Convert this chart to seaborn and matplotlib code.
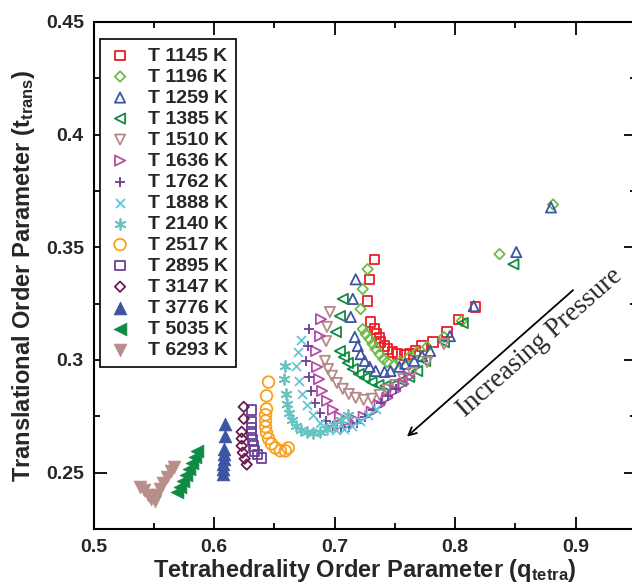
import matplotlib
matplotlib.use("Agg")
import matplotlib.pyplot as plt
import seaborn as sns
import pandas as pd
from matplotlib.ticker import MultipleLocator

# ---- data: tetrahedrality q and translational order t for each temperature ----
temps = ["T 1145 K", "T 1196 K", "T 1259 K", "T 1385 K", "T 1510 K",
         "T 1636 K", "T 1762 K", "T 1888 K", "T 2140 K", "T 2517 K",
         "T 2895 K", "T 3147 K", "T 3776 K", "T 5035 K", "T 6293 K"]

q_1145 = [0.7331, 0.7290, 0.7274, 0.7299, 0.7331, 0.7348, 0.7373, 0.7381, 0.7414, 0.7438,
          0.7479, 0.7521, 0.7578, 0.7627, 0.7669, 0.7726, 0.7817, 0.7932, 0.8030, 0.8170]
t_1145 = [0.3447, 0.3358, 0.3261, 0.3168, 0.3137, 0.3115, 0.3098, 0.3079, 0.3062, 0.3049,
          0.3035, 0.3026, 0.3022, 0.3026, 0.3040, 0.3062, 0.3079, 0.3124, 0.3181, 0.3235]

q_1196 = [0.7274, 0.7233, 0.7216, 0.7233, 0.7257, 0.7290, 0.7315, 0.7340, 0.7373, 0.7405,
          0.7438, 0.7496, 0.7545, 0.7619, 0.7685, 0.7767, 0.7907, 0.8055, 0.8368, 0.8812]
t_1196 = [0.3403, 0.3315, 0.3226, 0.3137, 0.3115, 0.3093, 0.3071, 0.3049, 0.3026, 0.3004,
          0.2991, 0.2978, 0.2991, 0.3013, 0.3035, 0.3058, 0.3102, 0.3173, 0.3470, 0.3690]

q_1259 = [0.7175, 0.7151, 0.7134, 0.7167, 0.7192, 0.7216, 0.7249, 0.7290, 0.7340, 0.7414,
          0.7463, 0.7537, 0.7586, 0.7660, 0.7726, 0.7792, 0.7956, 0.8154, 0.8507, 0.8795]
t_1259 = [0.3358, 0.3271, 0.3191, 0.3102, 0.3062, 0.3026, 0.2996, 0.2970, 0.2951, 0.2947,
          0.2951, 0.2970, 0.2983, 0.2996, 0.3017, 0.3040, 0.3106, 0.3239, 0.3479, 0.3677]

q_1385 = [0.7068, 0.7044, 0.7011, 0.7044, 0.7077, 0.7110, 0.7151, 0.7200, 0.7249, 0.7307,
          0.7364, 0.7422, 0.7488, 0.7553, 0.7619, 0.7685, 0.7751, 0.7907, 0.8063, 0.8483]
t_1385 = [0.3271, 0.3195, 0.3124, 0.3040, 0.3013, 0.2987, 0.2960, 0.2938, 0.2921, 0.2902,
          0.2889, 0.2885, 0.2889, 0.2907, 0.2925, 0.2951, 0.2996, 0.3079, 0.3164, 0.3425]

q_1510 = [0.6961, 0.6937, 0.6929, 0.6920, 0.6945, 0.6978, 0.7019, 0.7068, 0.7118, 0.7175,
          0.7241, 0.7307, 0.7373, 0.7438, 0.7504, 0.7570, 0.7644, 0.7767, 0.7907]
t_1510 = [0.3213, 0.3147, 0.3084, 0.2996, 0.2960, 0.2930, 0.2898, 0.2872, 0.2849, 0.2832,
          0.2823, 0.2828, 0.2845, 0.2868, 0.2889, 0.2915, 0.2943, 0.2991, 0.3071]

q_1636 = [0.6887, 0.6879, 0.6846, 0.6854, 0.6871, 0.6896, 0.6937, 0.6986, 0.7044, 0.7110,
          0.7175, 0.7241, 0.7307, 0.7373, 0.7438, 0.7504, 0.7570, 0.7619]
t_1636 = [0.3181, 0.3106, 0.3040, 0.2969, 0.2915, 0.2863, 0.2819, 0.2779, 0.2748, 0.2730,
          0.2734, 0.2748, 0.2770, 0.2800, 0.2832, 0.2863, 0.2894, 0.2925]

q_1762 = [0.6789, 0.6780, 0.6764, 0.6789, 0.6805, 0.6838, 0.6879, 0.6929, 0.6986, 0.7052,
          0.7118, 0.7184, 0.7249, 0.7315, 0.7381, 0.7447, 0.7512]
t_1762 = [0.3137, 0.3062, 0.2996, 0.2925, 0.2863, 0.2810, 0.2766, 0.2730, 0.2708, 0.2699,
          0.2704, 0.2721, 0.2748, 0.2779, 0.2810, 0.2841, 0.2872]

q_1888 = [0.6723, 0.6698, 0.6682, 0.6706, 0.6731, 0.6772, 0.6822, 0.6879, 0.6945, 0.7011,
          0.7077, 0.7143, 0.7208, 0.7274, 0.7340]
t_1888 = [0.3088, 0.3035, 0.2973, 0.2907, 0.2849, 0.2800, 0.2757, 0.2721, 0.2699, 0.2690,
          0.2695, 0.2708, 0.2730, 0.2757, 0.2783]

q_2140 = [0.6591, 0.6583, 0.6600, 0.6608, 0.6624, 0.6649, 0.6682, 0.6723, 0.6772, 0.6822,
          0.6879, 0.6937, 0.6994, 0.7052, 0.7110]
t_2140 = [0.2973, 0.2915, 0.2849, 0.2806, 0.2766, 0.2734, 0.2708, 0.2690, 0.2681, 0.2677,
          0.2681, 0.2695, 0.2712, 0.2734, 0.2757]

q_2517 = [0.6452, 0.6435, 0.6435, 0.6427, 0.6427, 0.6427, 0.6435, 0.6452, 0.6476, 0.6509,
          0.6550, 0.6591, 0.6616]
t_2517 = [0.2902, 0.2841, 0.2783, 0.2757, 0.2730, 0.2704, 0.2677, 0.2651, 0.2628, 0.2610,
          0.2597, 0.2597, 0.2610]

q_2895 = [0.6312, 0.6312, 0.6312, 0.6312, 0.6320, 0.6328, 0.6336, 0.6361, 0.6394]
t_2895 = [0.2779, 0.2726, 0.2699, 0.2672, 0.2646, 0.2619, 0.2597, 0.2580, 0.2566]

q_3147 = [0.6246, 0.6246, 0.6229, 0.6229, 0.6229, 0.6238, 0.6254, 0.6271]
t_3147 = [0.2792, 0.2739, 0.2681, 0.2651, 0.2619, 0.2589, 0.2562, 0.2536]

q_3776 = [0.6090, 0.6090, 0.6081, 0.6081, 0.6081, 0.6073, 0.6073, 0.6073]
t_3776 = [0.2717, 0.2664, 0.2606, 0.2584, 0.2562, 0.2540, 0.2518, 0.2495]

q_5035 = [0.5859, 0.5843, 0.5818, 0.5794, 0.5769, 0.5744, 0.5720, 0.5695]
t_5035 = [0.2597, 0.2570, 0.2544, 0.2518, 0.2491, 0.2465, 0.2438, 0.2416]

q_6293 = [0.5382, 0.5415, 0.5448, 0.5481, 0.5506, 0.5530, 0.5555, 0.5580, 0.5613, 0.5646, 0.5670]
t_6293 = [0.2438, 0.2421, 0.2403, 0.2385, 0.2376, 0.2403, 0.2429, 0.2455, 0.2482, 0.2508, 0.2527]

q_all = [q_1145, q_1196, q_1259, q_1385, q_1510, q_1636, q_1762, q_1888,
         q_2140, q_2517, q_2895, q_3147, q_3776, q_5035, q_6293]
t_all = [t_1145, t_1196, t_1259, t_1385, t_1510, t_1636, t_1762, t_1888,
         t_2140, t_2517, t_2895, t_3147, t_3776, t_5035, t_6293]

# marker, colour, face style (False = hollow, True = solid, None = line marker), marker area
styles = [
    ("s", "#ec1c24", False, 46),
    ("D", "#6cbd45", False, 28),
    ("^", "#3b54a4", False, 54),
    ("<", "#0f8b45", False, 54),
    ("v", "#b48a87", False, 54),
    (">", "#b54ea2", False, 54),
    ("+", "#6c3f98", None, 60),
    ("x", "#66c6d9", None, 42),
    ((6, 2, 0), "#69c3c0", None, 60),
    ("o", "#f9a11b", False, 70),
    ("s", "#6b4099", False, 48),
    ("D", "#6b1b4b", False, 28),
    ("^", "#3b54a4", True, 85),
    ("<", "#0f8b45", True, 85),
    ("v", "#b88e8b", True, 85),
]

df = pd.concat(
    [pd.DataFrame({"q": q, "t": t, "T": lab}) for q, t, lab in zip(q_all, t_all, temps)],
    ignore_index=True,
)

sns.set_theme(style="ticks")
plt.rcParams["font.family"] = ["Liberation Sans", "DejaVu Sans"]
plt.rcParams["font.weight"] = "bold"
plt.rcParams["mathtext.fontset"] = "custom"
plt.rcParams["mathtext.rm"] = "Liberation Sans:bold"
plt.rcParams["mathtext.it"] = "Liberation Sans:bold"
plt.rcParams["mathtext.bf"] = "Liberation Sans:bold"

fig = plt.figure(figsize=(6.32, 5.85), dpi=100)
# the frame runs a few pixels past the right edge of the canvas
ax = fig.add_axes([93.5 / 632, 56 / 585, 542.5 / 632, 507 / 585])

for lab, (mk, col, filled, size) in zip(temps, styles):
    sub = df[df["T"] == lab]
    kw = dict(marker=mk, s=size, color=col, label=lab, ax=ax, zorder=3)
    if filled is None:
        kw.update(linewidth=1.3)
    elif filled:
        kw.update(edgecolor=col, linewidth=0.5)
    else:
        kw.update(facecolor="none", edgecolor=col, linewidth=1.3)
    sns.scatterplot(data=sub, x="q", y="t", **kw)

ax.set_xlim(0.5, 0.95)
ax.set_ylim(0.225, 0.45)
ax.xaxis.set_major_locator(MultipleLocator(0.1))
ax.xaxis.set_minor_locator(MultipleLocator(0.05))
ax.yaxis.set_major_locator(MultipleLocator(0.05))
ax.yaxis.set_minor_locator(MultipleLocator(0.025))
ax.xaxis.set_major_formatter(plt.FuncFormatter(lambda v, p: f"{v:g}"))
ax.yaxis.set_major_formatter(plt.FuncFormatter(lambda v, p: f"{v:g}"))

for s in ax.spines.values():
    s.set_linewidth(1.5)
    s.set_color("black")
ax.tick_params(which="both", direction="in", top=True, right=True,
               color="black", width=1.3, labelsize=14, pad=7)
ax.tick_params(which="major", length=9)
ax.tick_params(which="minor", length=4.5)
for lbl in ax.get_xticklabels() + ax.get_yticklabels():
    lbl.set_fontweight("bold")

ax.set_xlabel(r"Tetrahedrality Order Parameter (q$_{\rm tetra}$)",
              fontsize=17, fontweight="bold", labelpad=1)
ax.set_ylabel(r"Translational Order Parameter (t$_{\rm trans}$)",
              fontsize=17, fontweight="bold", labelpad=6)

leg = ax.legend(loc="upper left", bbox_to_anchor=(0.012, 0.966), borderaxespad=0,
                frameon=True, fancybox=False, framealpha=1, edgecolor="black",
                prop={"weight": "bold", "size": 14}, labelspacing=0.175,
                handlelength=1.26, handletextpad=0.8, borderpad=0.4, scatterpoints=1)
leg.get_frame().set_linewidth(1.2)

ax.annotate("", xy=(0.7600, 0.2660), xytext=(0.8978, 0.3310),
            arrowprops=dict(arrowstyle="->", color="black", lw=1.3,
                            mutation_scale=14, shrinkA=0, shrinkB=0))
ax.text(0.8700, 0.3075, "Increasing Pressure", rotation=41.5,
        rotation_mode="anchor", ha="center", va="center",
        family=["Liberation Serif", "DejaVu Serif"], fontweight="normal", fontsize=19.5)

fig.savefig("out.png", dpi=100)
